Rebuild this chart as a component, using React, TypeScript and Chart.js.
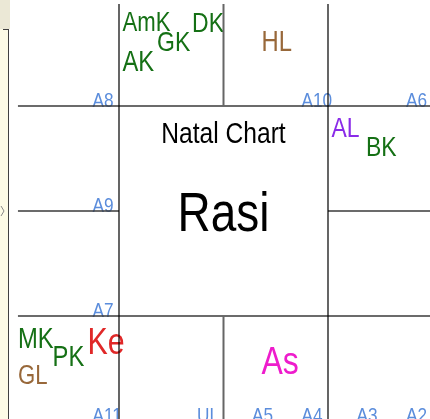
import React, { useEffect, useRef } from 'react';
import { Chart, registerables } from 'chart.js';

Chart.register(...registerables);

// ---- Data ----
const SIGNS = ['Aries', 'Taurus', 'Gemini', 'Cancer', 'Leo', 'Virgo', 'Libra', 'Scorpio', 'Sagittarius', 'Capricorn', 'Aquarius', 'Pisces'];

const planetNames = ['AmK', 'GK', 'DK', 'AK', 'HL', 'AL', 'BK', 'MK', 'PK', 'Ke', 'GL', 'As'];
const planetSigns = ['Aries', 'Aries', 'Aries', 'Aries', 'Taurus', 'Cancer', 'Cancer', 'Sagittarius', 'Sagittarius', 'Sagittarius', 'Sagittarius', 'Libra'];
const planetOrder = [0, 1, 2, 3, 1, 0, 1, 0, 1, 2, 3, 1];

const arudhaNames = ['A8', 'A10', 'A6', 'A9', 'A7', 'A11', 'UL', 'A4', 'A5', 'A2', 'A3'];
const arudhaSigns = ['Pisces', 'Taurus', 'Gemini', 'Aquarius', 'Capricorn', 'Sagittarius', 'Scorpio', 'Libra', 'Libra', 'Virgo', 'Virgo'];
const arudhaOrder = [0, 0, 0, 0, 0, 0, 0, 0, 1, 0, 1];

const chartTitle = 'Natal Chart';
const chartName = 'Rasi';

// ---- Layout / style ----
// South Indian chart: [col,row] of each sign (Aries..Pisces)
const SIGN_CELLS: number[][] = [[1, 0], [2, 0], [3, 0], [3, 1], [3, 2], [3, 3], [2, 3], [1, 3], [0, 3], [0, 2], [0, 1], [0, 0]];
const X_MIN = -14.5 / 104.5;
const X_MAX = X_MIN + 430 / 104.5;
const Y_MIN = -1 / 105;
const Y_MAX = Y_MIN + 419 / 105;
const LINE_START_X = 0.033;
const LINE_START_Y = 0.029;

const SLOT_DX = [0.033, 0.364, 0.699, 0.033];
const SLOT_TOP = [0.104, 0.283, 0.108, 0.465];
const LABEL_DX = [0.746, 0.273];
const LABEL_BASE = 1.01;

const FONT = "'Liberation Sans', Arial, sans-serif";
const SCALE_X = 0.82;

const GREEN = '#157015';
const BROWN = '#98683a';
const planetStyle: Record<string, { color: string; size: number }> = {
  AmK: { color: GREEN, size: 27 },
  GK: { color: GREEN, size: 28 },
  DK: { color: GREEN, size: 28 },
  AK: { color: GREEN, size: 29 },
  HL: { color: BROWN, size: 29 },
  AL: { color: '#8a2be8', size: 28 },
  BK: { color: GREEN, size: 28 },
  MK: { color: GREEN, size: 29 },
  PK: { color: GREEN, size: 29 },
  Ke: { color: '#e02828', size: 37 },
  GL: { color: BROWN, size: 27 },
  As: { color: '#ee1ccc', size: 39 },
};
const LABEL_COLOR = '#5b8ddc';
const LABEL_SIZE = 21;

function cellOf(sign: string) {
  return SIGN_CELLS[SIGNS.indexOf(sign)];
}

function buildGrid() {
  const segs: { pts: { x: number; y: number }[]; color: string; width: number }[] = [];
  const black = '#000000';
  const dark = '#3a3a3a';
  const gray = '#666666';
  // vertical boundaries
  segs.push({ pts: [{ x: 1, y: LINE_START_Y }, { x: 1, y: 4.2 }], color: black, width: 1.2 });
  segs.push({ pts: [{ x: 3, y: LINE_START_Y }, { x: 3, y: 4.2 }], color: black, width: 1.2 });
  segs.push({ pts: [{ x: 2, y: LINE_START_Y }, { x: 2, y: 1 }], color: gray, width: 2 });
  segs.push({ pts: [{ x: 2, y: 3 }, { x: 2, y: 4.2 }], color: gray, width: 2 });
  // horizontal boundaries
  segs.push({ pts: [{ x: LINE_START_X, y: 1 }, { x: 4.2, y: 1 }], color: dark, width: 1.6 });
  segs.push({ pts: [{ x: LINE_START_X, y: 3 }, { x: 4.2, y: 3 }], color: dark, width: 1.6 });
  segs.push({ pts: [{ x: LINE_START_X, y: 2 }, { x: 1, y: 2 }], color: dark, width: 1.6 });
  segs.push({ pts: [{ x: 3, y: 2 }, { x: 4.2, y: 2 }], color: dark, width: 1.6 });
  return segs;
}

const textPlugin = {
  id: 'rasiText',
  beforeDraw(chart: any) {
    const ctx = chart.ctx;
    ctx.save();
    // window-edge strip on the left
    ctx.fillStyle = '#ebe8d6';
    ctx.fillRect(0, 0, 10, 29);
    ctx.fillStyle = '#fdfbe6';
    ctx.fillRect(0, 29, 9, 390);
    ctx.strokeStyle = '#404040';
    ctx.lineWidth = 1;
    ctx.beginPath();
    ctx.moveTo(8.5, 29);
    ctx.lineTo(8.5, 419);
    ctx.moveTo(3, 29.5);
    ctx.lineTo(9, 29.5);
    ctx.stroke();
    ctx.strokeStyle = '#888';
    ctx.beginPath();
    ctx.moveTo(1, 206);
    ctx.lineTo(4, 211);
    ctx.lineTo(1, 216);
    ctx.stroke();
    ctx.restore();
  },
  beforeDatasetsDraw(chart: any) {
    const ctx = chart.ctx;
    const xs = chart.scales.x;
    const ys = chart.scales.y;
    const draw = (text: string, ux: number, uy: number, color: string, size: number, align: string) => {
      const px = xs.getPixelForValue(ux);
      const py = ys.getPixelForValue(uy);
      ctx.save();
      ctx.translate(px, py);
      ctx.scale(SCALE_X, 1);
      ctx.font = `${size}px ${FONT}`;
      ctx.fillStyle = color;
      ctx.textAlign = align;
      ctx.textBaseline = 'alphabetic';
      ctx.fillText(text, 0, 0);
      ctx.restore();
    };
    // arudha labels
    arudhaNames.forEach((name, i) => {
      const [c, r] = cellOf(arudhaSigns[i]);
      draw(name, c + LABEL_DX[arudhaOrder[i]], r + LABEL_BASE, LABEL_COLOR, LABEL_SIZE, 'left');
    });
    // planets
    planetNames.forEach((name, i) => {
      const [c, r] = cellOf(planetSigns[i]);
      const st = planetStyle[name];
      const slot = planetOrder[i];
      const capPx = st.size * 0.716;
      const baseUnit = r + SLOT_TOP[slot] + capPx / 105;
      draw(name, c + SLOT_DX[slot], baseUnit, st.color, st.size, 'left');
    });
    // center texts
    draw(chartTitle, 2, 1.352, '#000000', 30, 'center');
    draw(chartName, 2, 2.19, '#000000', 56, 'center');
  },
};

export default function App() {
  const ref = useRef<HTMLCanvasElement>(null);
  useEffect(() => {
    document.body.style.margin = '0';
    if (!ref.current) return;
    const grid = buildGrid();
    const chart = new Chart(ref.current, {
      type: 'scatter',
      data: {
        datasets: grid.map((g) => ({
          data: g.pts,
          showLine: true,
          borderColor: g.color,
          borderWidth: g.width,
          pointRadius: 0,
          fill: false,
        })),
      },
      options: {
        responsive: false,
        animation: false,
        events: [],
        layout: { padding: 0 },
        scales: {
          x: { type: 'linear', min: X_MIN, max: X_MAX, display: false },
          y: { type: 'linear', reverse: true, min: Y_MIN, max: Y_MAX, display: false },
        },
        plugins: { legend: { display: false }, tooltip: { enabled: false } },
      },
      plugins: [textPlugin],
    } as any);
    return () => chart.destroy();
  }, []);
  return (
    <div style={{ position: 'fixed', left: 0, top: 0, width: 430, height: 419, background: '#fff' }}>
      <canvas ref={ref} width={430} height={419} style={{ display: 'block', width: 430, height: 419 }} />
    </div>
  );
}
